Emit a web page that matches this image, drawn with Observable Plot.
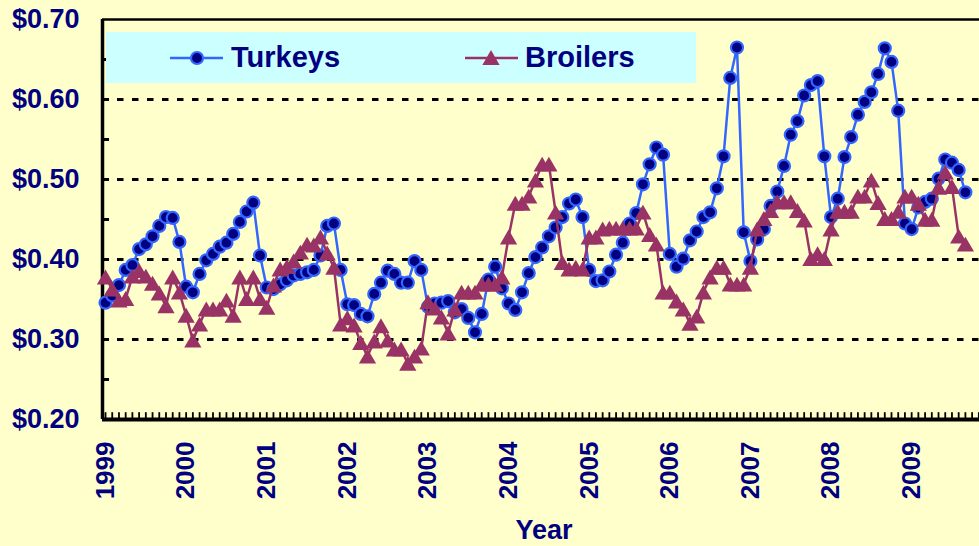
<!DOCTYPE html>
<html>
<head>
<meta charset="utf-8">
<script src="https://cdn.jsdelivr.net/npm/d3@7"></script>
<script src="https://cdn.jsdelivr.net/npm/@observablehq/plot@0.6"></script>
<style>
  html, body { margin: 0; padding: 0; background: #FFFFCC; }
  #wrap { position: relative; width: 979px; height: 546px; overflow: hidden; }
  #wrap svg text { font-weight: bold; }
  #legend { position: absolute; left: 106px; top: 32px; width: 590px; height: 51px; background: #CCFFFF;
            font-family: "Liberation Sans", Arial, sans-serif; font-weight: bold; font-size: 29px; color: #000080; }
  #legend svg { position: absolute; left: 0; top: 0; }
  #legend span { position: absolute; top: 8px; line-height: 34px; }
</style>
</head>
<body>
<div id="wrap"></div>
<script>
// ---- data ----
const startYear = 1999;
const seriesNames = ["Turkeys", "Broilers"];
const yearLabels = ["1999","2000","2001","2002","2003","2004","2005","2006","2007","2008","2009"];
const yTickValues = [0.20, 0.30, 0.40, 0.50, 0.60, 0.70];
const yTickLabels = ["$0.20", "$0.30", "$0.40", "$0.50", "$0.60", "$0.70"];
const xTitle = "Year";

const turkeys = [
  0.346, 0.355, 0.368, 0.387, 0.393, 0.413, 0.419, 0.429, 0.442, 0.453, 0.452, 0.422,
  0.366, 0.359, 0.382, 0.399, 0.407, 0.416, 0.421, 0.432, 0.447, 0.460, 0.471, 0.405,
  0.365, 0.363, 0.369, 0.374, 0.380, 0.382, 0.384, 0.387, 0.405, 0.442, 0.445, 0.387,
  0.344, 0.343, 0.332, 0.329, 0.357, 0.371, 0.386, 0.382, 0.371, 0.371, 0.398, 0.387,
  0.341, 0.345, 0.346, 0.348, 0.334, 0.338, 0.327, 0.309, 0.332, 0.375, 0.391, 0.364,
  0.345, 0.337, 0.359, 0.383, 0.403, 0.415, 0.429, 0.440, 0.453, 0.470, 0.475, 0.453,
  0.387, 0.373, 0.374, 0.385, 0.406, 0.421, 0.445, 0.458, 0.494, 0.519, 0.540, 0.531,
  0.407, 0.391, 0.401, 0.424, 0.435, 0.453, 0.459, 0.489, 0.529, 0.627, 0.665, 0.434,
  0.398, 0.425, 0.438, 0.467, 0.485, 0.517, 0.556, 0.573, 0.605, 0.618, 0.623, 0.529,
  0.453, 0.476, 0.528, 0.553, 0.581, 0.597, 0.609, 0.632, 0.664, 0.647, 0.586, 0.445,
  0.438, 0.465, 0.472, 0.476, 0.501, 0.525, 0.521, 0.512, 0.484
];
const broilers = [
  0.378, 0.363, 0.349, 0.351, 0.379, 0.386, 0.379, 0.370, 0.358, 0.342, 0.378, 0.359,
  0.330, 0.299, 0.319, 0.338, 0.338, 0.338, 0.349, 0.330, 0.378, 0.351, 0.378, 0.351,
  0.340, 0.368, 0.388, 0.391, 0.398, 0.409, 0.419, 0.418, 0.428, 0.408, 0.390, 0.319,
  0.327, 0.318, 0.296, 0.279, 0.298, 0.317, 0.299, 0.288, 0.288, 0.270, 0.279, 0.289,
  0.347, 0.339, 0.328, 0.308, 0.338, 0.359, 0.359, 0.359, 0.369, 0.369, 0.369, 0.378,
  0.428, 0.470, 0.470, 0.479, 0.499, 0.519, 0.519, 0.459, 0.396, 0.388, 0.390, 0.388,
  0.428, 0.428, 0.438, 0.439, 0.439, 0.439, 0.439, 0.439, 0.459, 0.431, 0.419, 0.359,
  0.359, 0.348, 0.338, 0.320, 0.329, 0.359, 0.378, 0.390, 0.390, 0.369, 0.369, 0.369,
  0.390, 0.438, 0.451, 0.461, 0.472, 0.472, 0.472, 0.461, 0.449, 0.401, 0.407, 0.401,
  0.438, 0.460, 0.460, 0.460, 0.479, 0.479, 0.499, 0.471, 0.451, 0.451, 0.460, 0.479,
  0.479, 0.470, 0.450, 0.450, 0.490, 0.509, 0.491, 0.429, 0.419
];

// ---- styling ----
const navy = "#000080";
const turkeyStroke = "#3366FF";
const broilerColor = "#993366";
const font = "'Liberation Sans', Arial, sans-serif";
const xMin = -0.45, xMax = 130.1;
const yMin = 0.20, yMax = 0.70;
const triR = 6.4;

const tData = turkeys.map((v, i) => ({month: i, value: v}));
const bData = broilers.map((v, i) => ({month: i, value: v}));
const yearTicks = yearLabels.map((y, i) => (+y - startYear) * 12);
const monthTicks = d3.range(0, 131);
const minorY = d3.range(0.25, 0.70, 0.05);
const gridY = yTickValues.filter(v => v > yMin && v < yMax);

const chart = Plot.plot({
  width: 979,
  height: 546,
  marginLeft: 102,
  marginRight: 0,
  marginTop: 19,
  marginBottom: 127,
  style: {background: "#FFFFCC", fontFamily: font, color: navy, overflow: "visible"},
  x: {domain: [xMin, xMax], axis: null},
  y: {domain: [yMin, yMax], axis: null},
  marks: [
    Plot.ruleY(gridY, {stroke: "black", strokeWidth: 3, strokeDasharray: "6.5,8.5"}),
    Plot.ruleY(minorY, {y: d => d, x1: xMin, x2: xMin + 1.05, stroke: "black", strokeWidth: 3}),
    Plot.ruleX(monthTicks, {x: d => d, y1: yMin, y2: yMin + 0.0085, stroke: "black", strokeWidth: 1.8}),
    Plot.ruleX([xMin], {stroke: "black", strokeWidth: 3.5}),
    Plot.ruleY([yMin], {stroke: "black", strokeWidth: 4}),
    Plot.ruleY([yMax], {stroke: "black", strokeWidth: 2.5}),
    Plot.line(tData, {x: "month", y: "value", stroke: turkeyStroke, strokeWidth: 2.5}),
    Plot.dot(tData, {x: "month", y: "value", r: 6, fill: navy, stroke: turkeyStroke, strokeWidth: 2.2}),
    Plot.line(bData, {x: "month", y: "value", stroke: broilerColor, strokeWidth: 2.5}),
    Plot.dot(bData, {x: "month", y: "value", symbol: "triangle", r: triR, fill: broilerColor, stroke: "none", dy: 2.3}),
    Plot.axisY(yTickValues, {
      tickSize: 0, tickPadding: 23, label: null,
      tickFormat: d => yTickLabels[yTickValues.indexOf(d)],
      fontSize: 27, fontWeight: "bold", fill: navy
    }),
    Plot.axisX(yearTicks, {
      tickSize: 0, tickPadding: 22, tickRotate: -90, label: null,
      tickFormat: d => yearLabels[yearTicks.indexOf(d)],
      fontSize: 26, fontWeight: "bold", fill: navy
    }),
    Plot.text([xTitle], {frameAnchor: "bottom", dy: 119, dx: 3, fontSize: 27, fontWeight: "bold", fill: navy})
  ]
});
document.getElementById("wrap").appendChild(chart);

// ---- legend (inside the plot area, as in the original) ----
const legend = document.createElement("div");
legend.id = "legend";
const triPath = d3.symbol(d3.symbolTriangle, Math.PI * triR * triR)();
legend.innerHTML = `
  <svg width="590" height="51">
    <line x1="64" x2="117" y1="26" y2="26" stroke="${turkeyStroke}" stroke-width="2.5"/>
    <circle cx="91" cy="26" r="6" fill="${navy}" stroke="${turkeyStroke}" stroke-width="2.2"/>
    <line x1="359" x2="412" y1="26" y2="26" stroke="${broilerColor}" stroke-width="2.5"/>
    <path d="${triPath}" transform="translate(385,28)" fill="${broilerColor}"/>
  </svg>
  <span style="left:125px">${seriesNames[0]}</span>
  <span style="left:419px">${seriesNames[1]}</span>`;
document.getElementById("wrap").appendChild(legend);
</script>
</body>
</html>
